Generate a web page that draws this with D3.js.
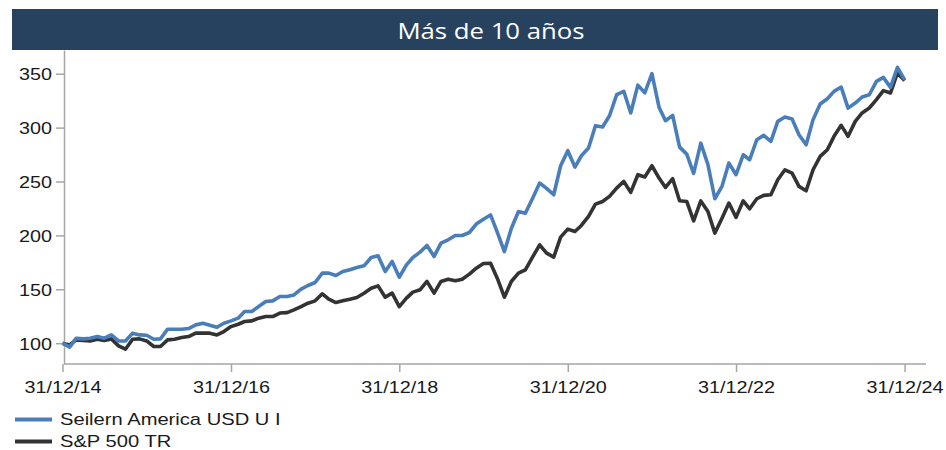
<!DOCTYPE html>
<html>
<head>
<meta charset="utf-8">
<script src="https://cdn.jsdelivr.net/npm/d3@7"></script>
<style>
  html, body { margin: 0; padding: 0; background: #ffffff; }
  svg { display: block; }
</style>
</head>
<body>
<svg id="chart" width="946" height="450"></svg>
<script>
// ---- data ----
const title = "Más de 10 años";
const seriesNames = ["Seilern America USD U I", "S&P 500 TR"];
const seriesColors = ["#4a7ebb", "#333333"];
const startMonth = "2014-12-31";   // first monthly observation (month ends)
const axisEndDate = "2025-04-03";   // end of the drawn x axis line
const xTickDates = ["2014-12-31", "2016-12-31", "2018-12-31", "2020-12-31", "2022-12-31", "2024-12-31"];
const xTickLabels = ["31/12/14", "31/12/16", "31/12/18", "31/12/20", "31/12/22", "31/12/24"];
const yTicks = [100, 150, 200, 250, 300, 350];

const seilern = [
  100, 96.3, 104.5, 104, 104.6, 106.2, 104.6, 107.7, 102.1, 102.1,
  109.3, 107.7, 107.4, 103.7, 104, 113, 113, 113, 113.6, 117,
  118.5, 116.7, 114.8, 118.5, 120.7, 123.2, 129.4, 129.4, 134, 138.7,
  139.3, 143.3, 143.3, 144.8, 150.1, 153.5, 156.3, 165, 165, 162.8,
  166.5, 168.1, 170.2, 171.8, 179.5, 181.1, 166.5, 175.8, 161.2, 172.7,
  179.5, 184.5, 190.7, 180.5, 192.8, 195.9, 199.9, 199.9, 202.7, 210.5,
  215, 219, 203, 185, 206.4, 222.2, 220.6, 234.3, 248.6, 243.6,
  237.7, 264.6, 278.6, 263.4, 273.9, 281, 301.8, 300.6, 311, 330.5,
  333.7, 313.6, 339.4, 332.3, 350, 318.8, 306.4, 311.4, 281.9, 275.4,
  257.5, 285.6, 265.6, 234, 245.5, 267.1, 256.3, 274.8, 270.2, 288.8,
  292.8, 287.3, 305.8, 309.8, 308, 293.4, 284.1, 307.4, 321.9, 326.8,
  333.6, 337.6, 318.1, 322.8, 328.4, 330.5, 342.9, 346.6, 337.3, 355.9,
  344.4
];
const sp500 = [
  100, 98.4, 103.1, 102.5, 102.1, 103.7, 102.5, 104, 97.5, 94.4,
  103.7, 104, 102.1, 96.9, 96.9, 103.1, 103.7, 105.2, 106.2, 109.3,
  109.3, 109.3, 107.7, 110.8, 115.4, 117.6, 120.1, 120.7, 123.2, 124.7,
  124.7, 128, 128.4, 130.9, 134, 137.1, 139.3, 145.8, 140.8, 137.7,
  139.3, 140.8, 142.4, 146.4, 151, 153.2, 142.7, 146.4, 134, 141.8,
  147.4, 149.5, 157.3, 146.4, 157.3, 159.4, 157.9, 159.4, 164.1, 169.6,
  174, 174.2, 160.3, 142.7, 157.2, 165, 168.1, 179.8, 191.3, 183.5,
  179.8, 198.4, 205.8, 203.6, 209.2, 217.6, 229, 231.5, 236.2, 243.9,
  250.1, 239.9, 256.3, 254.2, 264.6, 253.2, 244.5, 252.6, 232.1, 231.5,
  213.5, 232, 222.2, 202.1, 216, 230, 216.7, 232.1, 224.7, 234,
  237.1, 237.7, 251.6, 260.9, 257.8, 245.5, 241.4, 260.9, 273.3, 279.5,
  291.9, 302.1, 291.9, 305.8, 313.6, 318.2, 325.9, 334.3, 332.1, 350.7,
  343.6
];

// ---- chart ----
const svg = d3.select("#chart");
const parse = d3.utcParse("%Y-%m-%d");
const start = parse(startMonth);
const monthEnd = i => d3.utcDay.offset(d3.utcMonth.offset(d3.utcMonth.floor(start), i + 1), -1);
const dates = seilern.map((_, i) => monthEnd(i));

const x = d3.scaleUtc()
  .domain([parse(xTickDates[0]), parse(axisEndDate)])
  .range([62.5, 926]);
const y = d3.scaleLinear().domain([80.7, 372]).range([364, 50]);

const axisColor = "#a6a6a6";
const labelFont = "'Liberation Sans', Arial, sans-serif";
const stretch = 1.2;
const legendStretch = 1.26;

// title bar
svg.append("rect").attr("x", 12).attr("y", 9).attr("width", 926).attr("height", 41)
  .attr("fill", "#27425f");
svg.append("text").attr("x", 491).attr("y", 30)
  .attr("text-anchor", "middle").attr("dominant-baseline", "central")
  .attr("font-family", "'Open Sans', 'Noto Sans', sans-serif")
  .attr("font-size", 22).attr("fill", "#ffffff")
  .attr("transform", `translate(491,30) scale(1.17,1) translate(-491,-30)`)
  .text(title);

// y axis
const yAxis = svg.append("g").attr("transform", `translate(64,0)`)
  .call(d3.axisLeft(y).tickValues(yTicks).tickSize(8).tickSizeOuter(0));
yAxis.select(".domain").attr("stroke", axisColor).attr("stroke-width", 1.5);
yAxis.selectAll(".tick line").attr("stroke", axisColor).attr("stroke-width", 1.5);
yAxis.selectAll(".tick text")
  .attr("x", -12 / stretch).attr("dy", "0.36em")
  .attr("transform", `scale(${stretch},1)`)
  .attr("font-family", labelFont).attr("font-size", 16.5).attr("fill", "#1a1a1a");

// x axis
const xAxis = svg.append("g").attr("transform", `translate(0,364)`)
  .call(d3.axisBottom(x).tickValues(xTickDates.map(parse))
    .tickFormat((d, i) => xTickLabels[i]).tickSize(8).tickSizeOuter(0));
xAxis.select(".domain").attr("stroke", axisColor).attr("stroke-width", 1.5)
  .attr("d", `M64,0H${x.range()[1]}`);
xAxis.selectAll(".tick line").attr("stroke", axisColor).attr("stroke-width", 1.5);
xAxis.selectAll(".tick text")
  .attr("y", 17.6).attr("dy", "0.71em")
  .attr("transform", `scale(${stretch},1)`)
  .attr("font-family", labelFont).attr("font-size", 16.5).attr("fill", "#1a1a1a");

// lines (S&P first, Seilern drawn above)
const line = d3.line().x((d, i) => x(dates[i])).y(d => y(d));
[[sp500, seriesColors[1]], [seilern, seriesColors[0]]].forEach(([s, c]) => {
  svg.append("path").datum(s)
    .attr("fill", "none").attr("stroke", c)
    .attr("stroke-width", 3.6).attr("stroke-linejoin", "round").attr("stroke-linecap", "butt")
    .attr("d", line);
});

// legend
const legend = svg.append("g");
seriesNames.forEach((name, i) => {
  const ly = 419.5 + i * 22;
  legend.append("line").attr("x1", 15).attr("x2", 52).attr("y1", ly).attr("y2", ly)
    .attr("stroke", seriesColors[i]).attr("stroke-width", 4);
  legend.append("text").attr("x", 60 / legendStretch).attr("y", ly).attr("dy", "0.36em")
    .attr("transform", `scale(${legendStretch},1)`)
    .attr("font-family", labelFont).attr("font-size", 16).attr("fill", "#1a1a1a")
    .text(name);
});
</script>
</body>
</html>
